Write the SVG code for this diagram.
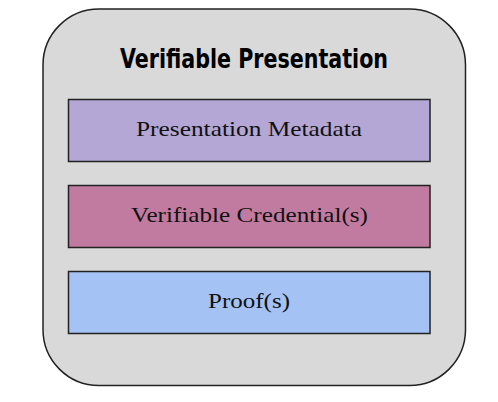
<svg xmlns="http://www.w3.org/2000/svg" width="498" height="402" viewBox="0 0 498 402">
<style>
.box{stroke:#222;stroke-width:1.5}
.lbl{font-family:"Liberation Serif","DejaVu Serif",serif;font-size:21px;fill:#111;text-anchor:middle}
.title{font-family:"DejaVu Sans Condensed","DejaVu Sans",sans-serif;font-weight:bold;font-stretch:condensed;font-size:26px;fill:#000;text-anchor:middle}
</style>
<rect width="498" height="402" fill="#fff"/>
<g id="container">
<rect x="43" y="9" width="422.5" height="376.5" rx="56" ry="56" fill="#d9d9d9" stroke="#222" stroke-width="1.5"/>
<text class="title" x="254" y="68" textLength="268" lengthAdjust="spacingAndGlyphs">Verifiable Presentation</text>
</g>
<g id="metadata">
<rect class="box" x="68.5" y="99.5" width="361.5" height="62" fill="#b4a7d6"/>
<text class="lbl" x="249" y="136" textLength="226" lengthAdjust="spacingAndGlyphs">Presentation Metadata</text>
</g>
<g id="credentials">
<rect class="box" x="68.5" y="185.5" width="361.5" height="62" fill="#c27ba0"/>
<text class="lbl" x="249.5" y="222" textLength="237" lengthAdjust="spacingAndGlyphs">Verifiable Credential(s)</text>
</g>
<g id="proof">
<rect class="box" x="68.5" y="271.5" width="361.5" height="62" fill="#a4c2f4"/>
<text class="lbl" x="249" y="308" textLength="82" lengthAdjust="spacingAndGlyphs">Proof(s)</text>
</g>
<g id="connectors"/>
</svg>
